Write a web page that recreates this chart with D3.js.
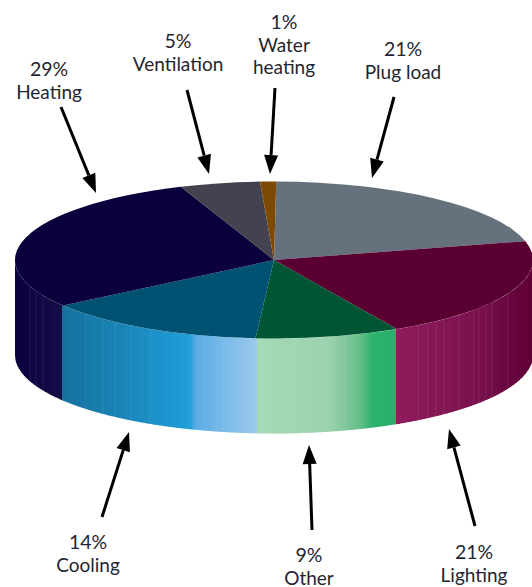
<!DOCTYPE html>
<html>
<head>
<meta charset="utf-8">
<script src="https://cdn.jsdelivr.net/npm/d3@7"></script>
<style>
html, body { margin: 0; padding: 0; background: #fff; }
svg { display: block; }
</style>
</head>
<body>
<div id="chart"></div>
<script>
// values, clockwise from the top
const categories = ["Plug load", "Lighting", "Other", "Cooling", "Heating", "Ventilation", "Water heating"];
const shares = [21, 21, 9, 14, 29, 5, 1];
const topColors = ["#65717c", "#590030", "#005634", "#005272", "#0c003c", "#45424f", "#7d4a05"];

// wall colour runs left to right across the picture
const wallStopX = [15, 62, 62, 120, 190, 196, 257, 257, 330, 360, 372, 397, 397, 470, 532];
const wallStopColors = ["#0c003f", "#140e47", "#14719e", "#1a83b6", "#1f9fdb", "#5badE5", "#9cc9ec",
    "#a6d9b6", "#9bd2ad", "#66be8a", "#2db36c", "#2aae6c", "#8f1c5d", "#7c1250", "#5f0035"];
// faint seams in the wall
const seamX = [30, 36, 43, 86, 103, 115, 131, 150, 190, 205, 224, 240, 270, 295, 320, 345, 418, 428, 436, 444, 459, 474, 479, 486, 492, 508];

const width = 532, height = 587;
const cx = 274, cy = 260, rx = 259, ry = 78.5, depth = 95;
const startDeg = 0.5;

const svg = d3.select("#chart").append("svg")
    .attr("width", width)
    .attr("height", height);

// wall
const wallColor = d3.scaleLinear().domain(wallStopX).range(wallStopColors).interpolate(d3.interpolateRgb);
const rimY = x => cy + ry * Math.sqrt(Math.max(0, 1 - ((x - cx) / rx) ** 2));
const wallArea = d3.area().x(x => x).y0(rimY).y1(x => rimY(x) + depth);
const stripStep = 3;
const wall = svg.append("g");

d3.range(cx - rx, width, stripStep).forEach(function(x0) {
    const x1 = Math.min(x0 + stripStep + 0.5, cx + rx);
    const xs = d3.range(x0, x1, 0.5).concat([x1]);
    wall.append("path")
        .attr("d", wallArea(xs))
        .attr("fill", wallColor(x0 + stripStep / 2));
});

// sharp colour breaks between slices
wallStopX.forEach(function(x, i) {
    if (i > 0 && wallStopX[i - 1] === x) {
        const xs = d3.range(x, x + stripStep + 0.5, 0.5);
        wall.append("path")
            .attr("d", wallArea(xs))
            .attr("fill", wallStopColors[i]);
    }
});

seamX.forEach(function(x) {
    wall.append("line")
        .attr("x1", x).attr("x2", x)
        .attr("y1", rimY(x)).attr("y2", rimY(x) + depth)
        .attr("stroke", "#fff")
        .attr("stroke-opacity", 0.08)
        .attr("stroke-width", 1);
});

// top of the pie, a flat circle squashed into an ellipse
const pie = d3.pie().sort(null)
    .startAngle(startDeg * Math.PI / 180)
    .endAngle((startDeg + 360) * Math.PI / 180);
const arc = d3.arc().innerRadius(0).outerRadius(rx);

svg.append("g")
    .attr("transform", `translate(${cx},${cy}) scale(1,${ry / rx})`)
    .selectAll("path")
    .data(pie(shares))
    .enter()
    .append("path")
    .attr("d", arc)
    .attr("fill", (d, i) => topColors[i]);

// labels and arrows, same order as categories
const annotations = [
    {lines: ["21%", "Plug load"], x: 403, y: 56, from: [394, 97], to: [372, 178]},
    {lines: ["21%", "Lighting"], x: 474, y: 559, from: [475, 526], to: [449, 429]},
    {lines: ["9%", "Other"], x: 309, y: 562, from: [312, 530], to: [309, 445]},
    {lines: ["14%", "Cooling"], x: 88, y: 549, from: [102, 517], to: [129, 432]},
    {lines: ["29%", "Heating"], x: 49, y: 76, from: [61, 107], to: [96, 193]},
    {lines: ["5%", "Ventilation"], x: 178, y: 48, from: [187, 90], to: [209, 174]},
    {lines: ["1%", "Water", "heating"], x: 284, y: 29, from: [275, 88], to: [270, 174]}
];

const headLen = 19, headHalf = 7;

annotations.forEach(function(a) {
    const dx = a.to[0] - a.from[0], dy = a.to[1] - a.from[1];
    const len = Math.hypot(dx, dy);
    const ux = dx / len, uy = dy / len;
    const bx = a.to[0] - ux * headLen, by = a.to[1] - uy * headLen;

    svg.append("line")
        .attr("x1", a.from[0]).attr("y1", a.from[1])
        .attr("x2", bx).attr("y2", by)
        .attr("stroke", "#000")
        .attr("stroke-width", 3);
    svg.append("path")
        .attr("d", d3.line()([a.to, [bx - uy * headHalf, by + ux * headHalf], [bx + uy * headHalf, by - ux * headHalf]]) + "Z")
        .attr("fill", "#000");

    svg.append("text")
        .attr("text-anchor", "middle")
        .attr("font-family", "Lato, sans-serif")
        .attr("fill", "#1f2530")
        .selectAll("tspan")
        .data(a.lines)
        .enter()
        .append("tspan")
        .attr("x", a.x)
        .attr("y", (d, i) => a.y + i * 22.5)
        .attr("font-size", (d, i) => i === 0 ? 19.5 : 19)
        .text(d => d);
});
</script>
</body>
</html>
